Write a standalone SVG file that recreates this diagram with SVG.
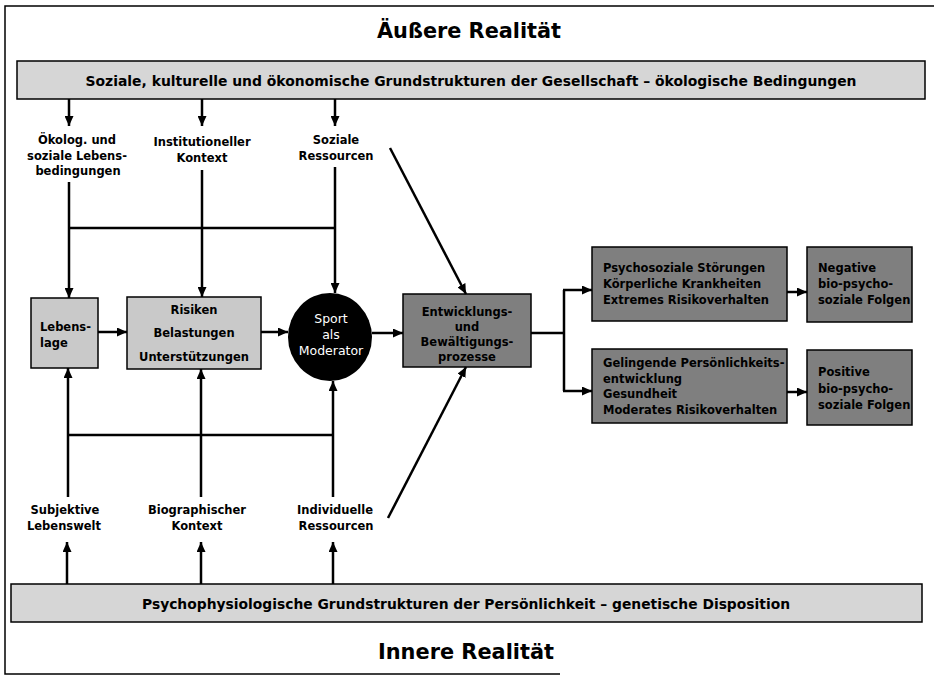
<svg xmlns="http://www.w3.org/2000/svg" width="934" height="679" viewBox="0 0 934 679">
<style>
  .t{font-family:"DejaVu Sans","Verdana",sans-serif;font-weight:bold;fill:#000}
  .lbl{font-size:11.5px}
  .big{font-size:21px}
  .bar{font-size:14px}
  .c{text-anchor:middle}
  .w{font-family:"DejaVu Sans","Verdana",sans-serif;font-size:12.5px;fill:#fff;text-anchor:middle}
  .ln{stroke:#000;stroke-width:2.5;fill:none}
  .arr{stroke:#000;stroke-width:2.5;fill:none;marker-end:url(#ah)}
  .lightbar{fill:#d6d6d6;stroke:#000;stroke-width:1.5}
  .light{fill:#c9c9c9;stroke:#000;stroke-width:1.5}
  .dark{fill:#7f7f7f;stroke:#000;stroke-width:1.5}
</style>
<defs>
  <marker id="ah" markerUnits="userSpaceOnUse" markerWidth="10" markerHeight="9" refX="10" refY="4.5" orient="auto">
    <path d="M0,0 L10,4.5 L0,9 z" fill="#000"/>
  </marker>
</defs>
<rect width="934" height="679" fill="#fff"/>
<path d="M934,6 L5,6 L5,674 L560,674" fill="none" stroke="#000" stroke-width="1.5"/>

<g id="title-top">
  <text class="t big c" x="469" y="38" textLength="184" lengthAdjust="spacingAndGlyphs">Äußere Realität</text>
</g>
<g id="bar-top">
  <rect class="lightbar" x="17" y="61" width="908" height="38"/>
  <text class="t bar c" x="471" y="86" textLength="771" lengthAdjust="spacingAndGlyphs">Soziale, kulturelle und ökonomische Grundstrukturen der Gesellschaft – ökologische Bedingungen</text>
</g>

<g id="label-oekolog">
  <text class="t lbl c" x="77" y="144">Ökolog. und</text>
  <text class="t lbl c" x="77" y="160">soziale Lebens-</text>
  <text class="t lbl c" x="78" y="175">bedingungen</text>
</g>
<g id="label-institutionell">
  <text class="t lbl c" x="202" y="146">Institutioneller</text>
  <text class="t lbl c" x="202" y="162">Kontext</text>
</g>
<g id="label-soziale">
  <text class="t lbl c" x="336" y="144">Soziale</text>
  <text class="t lbl c" x="336" y="160">Ressourcen</text>
</g>

<g id="lebenslage">
  <rect class="light" x="31" y="298" width="67" height="70"/>
  <text class="t lbl" x="40" y="331">Lebens-</text>
  <text class="t lbl" x="40" y="347">lage</text>
</g>
<g id="risiken">
  <rect class="light" x="127" y="297" width="134" height="72"/>
  <text class="t lbl c" x="194" y="314">Risiken</text>
  <text class="t lbl c" x="194" y="337">Belastungen</text>
  <text class="t lbl c" x="194" y="361">Unterstützungen</text>
</g>
<g id="sport">
  <ellipse cx="330" cy="337" rx="42" ry="44" fill="#000"/>
  <text class="w" x="331" y="323">Sport</text>
  <text class="w" x="331" y="339">als</text>
  <text class="w" x="331" y="355">Moderator</text>
</g>
<g id="entwicklung">
  <rect class="dark" x="403" y="294" width="128" height="73"/>
  <text class="t lbl c" x="467" y="316">Entwicklungs-</text>
  <text class="t lbl c" x="467" y="331">und</text>
  <text class="t lbl c" x="467" y="346">Bewältigungs-</text>
  <text class="t lbl c" x="467" y="361">prozesse</text>
</g>
<g id="stoerungen">
  <rect class="dark" x="592" y="247" width="195" height="74"/>
  <text class="t lbl" x="603" y="272">Psychosoziale Störungen</text>
  <text class="t lbl" x="603" y="288">Körperliche Krankheiten</text>
  <text class="t lbl" x="603" y="304">Extremes Risikoverhalten</text>
</g>
<g id="negative">
  <rect class="dark" x="807" y="247" width="105" height="75"/>
  <text class="t lbl" x="818" y="272">Negative</text>
  <text class="t lbl" x="818" y="288">bio-psycho-</text>
  <text class="t lbl" x="818" y="304">soziale Folgen</text>
</g>
<g id="gelingende">
  <rect class="dark" x="592" y="349" width="195" height="74"/>
  <text class="t lbl" x="603" y="367">Gelingende Persönlichkeits-</text>
  <text class="t lbl" x="603" y="383">entwicklung</text>
  <text class="t lbl" x="603" y="398">Gesundheit</text>
  <text class="t lbl" x="603" y="414">Moderates Risikoverhalten</text>
</g>
<g id="positive">
  <rect class="dark" x="807" y="350" width="105" height="75"/>
  <text class="t lbl" x="818" y="376">Positive</text>
  <text class="t lbl" x="818" y="393">bio-psycho-</text>
  <text class="t lbl" x="818" y="409">soziale Folgen</text>
</g>

<g id="label-subjektiv">
  <text class="t lbl c" x="65" y="514">Subjektive</text>
  <text class="t lbl c" x="64" y="530">Lebenswelt</text>
</g>
<g id="label-biographisch">
  <text class="t lbl c" x="197" y="514">Biographischer</text>
  <text class="t lbl c" x="197" y="530">Kontext</text>
</g>
<g id="label-individuell">
  <text class="t lbl c" x="335" y="514">Individuelle</text>
  <text class="t lbl c" x="336" y="530">Ressourcen</text>
</g>

<g id="bar-bottom">
  <rect class="lightbar" x="11" y="584" width="911" height="38"/>
  <text class="t bar c" x="466" y="609" textLength="648" lengthAdjust="spacingAndGlyphs">Psychophysiologische Grundstrukturen der Persönlichkeit – genetische Disposition</text>
</g>
<g id="title-bottom">
  <text class="t big c" x="466" y="659" textLength="176" lengthAdjust="spacingAndGlyphs">Innere Realität</text>
</g>

<g id="connectors">
  <!-- top bar down to labels -->
  <line class="arr" x1="69" y1="99" x2="69" y2="126"/>
  <line class="arr" x1="202" y1="99" x2="202" y2="126"/>
  <line class="arr" x1="335" y1="99" x2="335" y2="126"/>
  <!-- labels down to nodes -->
  <line class="arr" x1="69" y1="182" x2="69" y2="298"/>
  <line class="arr" x1="202" y1="170" x2="202" y2="297"/>
  <line class="arr" x1="335" y1="167" x2="335" y2="293"/>
  <line class="ln" x1="69" y1="228" x2="335" y2="228"/>
  <!-- horizontal chain -->
  <line class="arr" x1="98" y1="332" x2="127" y2="332"/>
  <line class="arr" x1="261" y1="332" x2="288" y2="332"/>
  <line class="arr" x1="372" y1="333" x2="403" y2="333"/>
  <!-- diagonals -->
  <line class="arr" x1="390" y1="148" x2="466" y2="294"/>
  <line class="arr" x1="388" y1="518" x2="466" y2="367"/>
  <!-- branch -->
  <polyline class="ln" points="531,333 564,333"/>
  <line class="ln" x1="564" y1="290" x2="564" y2="391"/>
  <line class="arr" x1="563" y1="290" x2="592" y2="290"/>
  <line class="arr" x1="563" y1="391" x2="592" y2="391"/>
  <line class="arr" x1="787" y1="292" x2="807" y2="292"/>
  <line class="arr" x1="787" y1="392" x2="807" y2="392"/>
  <!-- bottom labels up to nodes -->
  <line class="arr" x1="68" y1="497" x2="68" y2="368"/>
  <line class="arr" x1="201" y1="497" x2="201" y2="369"/>
  <line class="arr" x1="333" y1="497" x2="333" y2="381"/>
  <line class="ln" x1="68" y1="435" x2="333" y2="435"/>
  <!-- bottom bar up to labels -->
  <line class="arr" x1="67" y1="584" x2="67" y2="542"/>
  <line class="arr" x1="201" y1="584" x2="201" y2="542"/>
  <line class="arr" x1="333" y1="584" x2="333" y2="542"/>
</g>
</svg>
